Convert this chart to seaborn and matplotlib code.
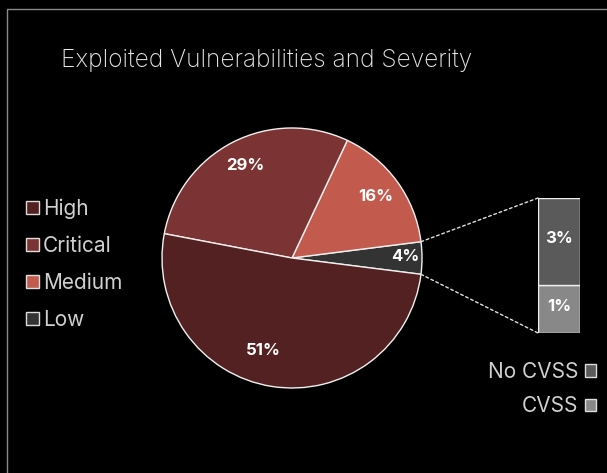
import matplotlib
matplotlib.use("Agg")
import matplotlib.pyplot as plt
import seaborn as sns
import numpy as np
from matplotlib.patches import Rectangle, ConnectionPatch, Patch

sns.set_theme(style="dark")
plt.rcParams['font.family'] = ['Inter', 'DejaVu Sans']

# Data
title = "Exploited Vulnerabilities and Severity"
severity_labels = ["Low", "Medium", "Critical", "High"]
severity_values = [4, 16, 29, 51]
severity_colors = ["#333333", "#c25b4e", "#7b3433", "#532121"]
legend_order = ["High", "Critical", "Medium", "Low"]

cvss_labels = ["CVSS", "No CVSS"]
cvss_values = [1.42, 2.58]
cvss_text = ["1%", "3%"]
cvss_colors = ["#888888", "#5a5a5a"]

W, H = 607, 473
fig = plt.figure(figsize=(W / 100, H / 100), dpi=100, facecolor="black")

def fx(px):
    return px / W

def fy(py):
    return 1 - py / H

# border
fig.patches.append(Rectangle((fx(7), -0.1), 1.2, fy(9) + 0.1, transform=fig.transFigure,
                             fill=False, edgecolor="#8a8a8a", linewidth=1.0))

fig.text(fx(61), fy(61), title, color="#e6e6e6", fontsize=17.6, va="center", ha="left",
         fontweight="light")

# Pie
cx, cy, r = 292, 258, 130
ax = fig.add_axes([fx(cx - r), fy(cy + r), (2 * r) / W, (2 * r) / H])
ax.set_facecolor("none")
wedges, texts, autotexts = ax.pie(
    severity_values, colors=severity_colors, startangle=-severity_values[0] / 100 * 180,
    counterclock=True, autopct=lambda p: f"{p:.0f}%", pctdistance=0.8,
    wedgeprops=dict(edgecolor="#f0f0f0", linewidth=1.0),
    textprops=dict(color="white", fontsize=12, fontweight="bold"))
# label placement tweaks (fractions of radius)
label_pos = {"Low": (0.87, 0.01), "High": (-0.22, -0.71)}
for lab, t in zip(severity_labels, autotexts):
    if lab in label_pos:
        t.set_position(label_pos[lab])
ax.set_xlim(-1, 1)
ax.set_ylim(-1, 1)
ax.set_aspect("equal")
ax.axis("off")

# Bar of pie
bx0, bx1, by0, by1 = 538, 580, 198, 333
axb = fig.add_axes([fx(bx0), fy(by1), (bx1 - bx0) / W, (by1 - by0) / H])
axb.set_facecolor("none")
bottom = 0
for v, c, t in zip(cvss_values, cvss_colors, cvss_text):
    axb.bar(0, v, bottom=bottom, width=1.0, color=c, edgecolor="#f0f0f0", linewidth=1.0)
    axb.text(0, bottom + v / 2 + 0.08, t, ha="center", va="center", color="white",
             fontsize=12, fontweight="bold")
    bottom += v
axb.set_xlim(-0.5, 0.5)
axb.set_ylim(0, bottom)
axb.axis("off")

# connectors
a0 = np.deg2rad(severity_values[0] / 100 * 180)
for ang, yb in [(a0, bottom), (-a0, 0)]:
    con = ConnectionPatch(xyA=(np.cos(ang), np.sin(ang)), coordsA=ax.transData,
                          xyB=(-0.5, yb), coordsB=axb.transData,
                          color="#e0e0e0", linestyle=(0, (2, 2)), linewidth=1.0)
    fig.add_artist(con)

# Left legend
handles = [Patch(facecolor=severity_colors[severity_labels.index(l)], edgecolor="#dddddd",
                 linewidth=1.0) for l in legend_order]
leg = fig.legend(handles, legend_order, loc="upper left", bbox_to_anchor=(fx(26), fy(198)),
                 frameon=False, fontsize=15, labelcolor="#d0d0d0", handlelength=0.6,
                 handleheight=0.6, handletextpad=0.2, labelspacing=0.82, borderaxespad=0,
                 borderpad=0)

# Right legend
h2 = [Patch(facecolor=cvss_colors[cvss_labels.index(l)], edgecolor="#dddddd", linewidth=1.0)
      for l in ["No CVSS", "CVSS"]]
leg2 = fig.legend(h2, ["No CVSS", "CVSS"], loc="upper right", bbox_to_anchor=(fx(596), fy(362)),
                  frameon=False, fontsize=15, labelcolor="#d0d0d0", handlelength=0.55,
                  handleheight=0.55, handletextpad=0.3, labelspacing=0.68, markerfirst=False,
                  borderaxespad=0, borderpad=0, alignment="right")

fig.savefig("out.png", dpi=100, facecolor="black")
